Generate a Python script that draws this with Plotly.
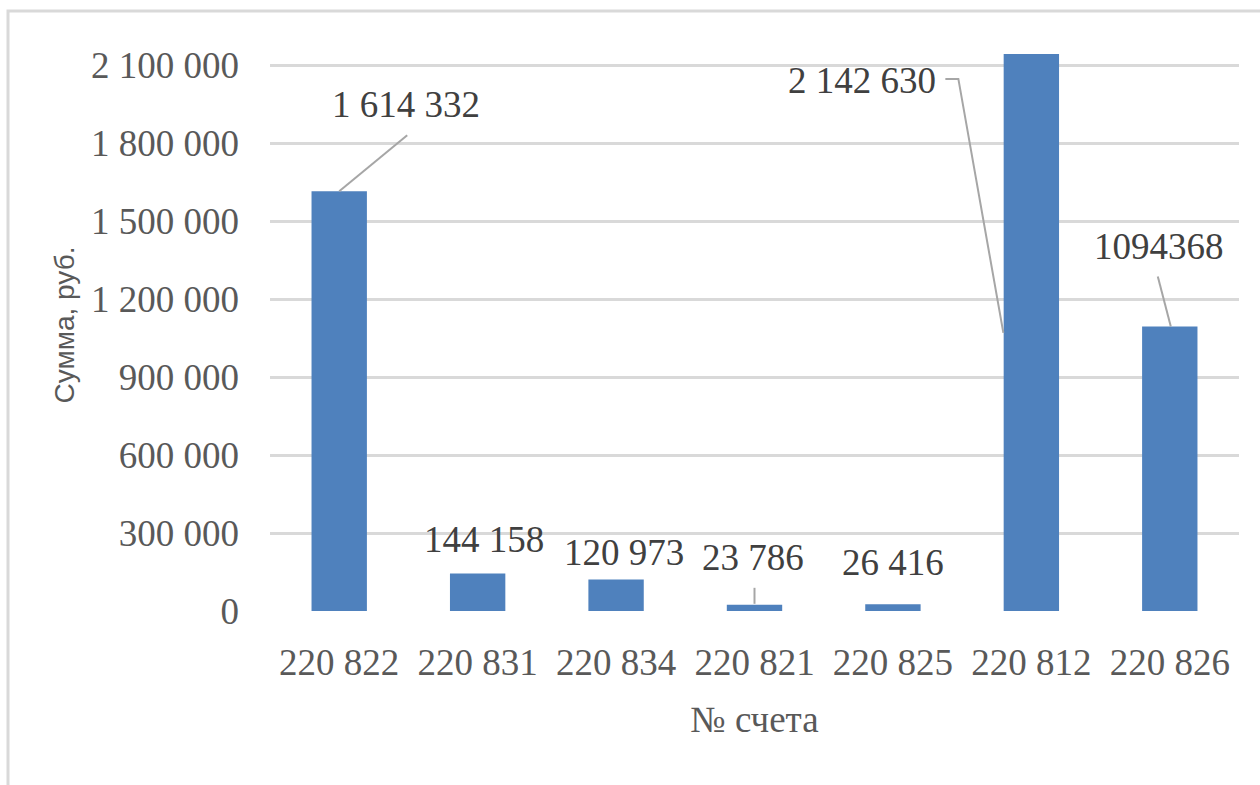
import plotly.graph_objects as go

# Account numbers and the amounts booked on each (roubles)
accounts = ["220 822", "220 831", "220 834", "220 821", "220 825", "220 812", "220 826"]
amounts = [1614332, 144158, 120973, 23786, 26416, 2142630, 1094368]
amount_labels = ["1 614 332", "144 158", "120 973", "23 786", "26 416", "2 142 630", "1094368"]

y_ticks = [0, 300000, 600000, 900000, 1200000, 1500000, 1800000, 2100000]
y_tick_text = ["0", "300 000", "600 000", "900 000", "1 200 000", "1 500 000", "1 800 000", "2 100 000"]

# Pixel offsets of each value label from the top centre of its bar
label_offsets = [(67, 87), (6, 34), (8, 27), (-2, 47), (0, 42), (-169, -27), (-11, 80)]
# Leader lines, pixel paths relative to the top centre of the bar (None = no leader)
leaders = [
    "M 0,0 L 68,56",
    None,
    None,
    "M 0,1 L 0,17",
    None,
    "M -28,-279 L -73,-25 L -86,-25",
    "M 1,0 L -12,50",
]

BAR = "#4F81BD"
GRID = "#D9D9D9"
TEXT = "#404040"
AXIS_TEXT = "#595959"
SERIF = "Liberation Serif, Times New Roman, serif"
SANS = "Liberation Sans, Arial, sans-serif"

fig = go.Figure(
    go.Bar(x=accounts, y=amounts, marker=dict(color=BAR, line=dict(width=0)), width=0.4)
)

annotations = []
shapes = []
for i, (acc, val, txt) in enumerate(zip(accounts, amounts, amount_labels)):
    dx, dy = label_offsets[i]
    annotations.append(dict(
        x=acc, y=val, xref="x", yref="y", text=txt, showarrow=False,
        xshift=dx, yshift=dy, xanchor="center", yanchor="middle",
        font=dict(family=SERIF, size=37, color=TEXT),
    ))
    if leaders[i]:
        shapes.append(dict(
            type="path", xref="x", yref="y", xsizemode="pixel", ysizemode="pixel",
            xanchor=acc, yanchor=val, path=leaders[i],
            line=dict(color="#A6A6A6", width=2), layer="above",
        ))

# Light frame around the chart area
shapes.append(dict(
    type="rect", xref="paper", yref="paper",
    x0=(8 - 270) / 969, x1=1.2, y0=-0.5, y1=(611 - 11) / 572,
    line=dict(color=GRID, width=3), fillcolor="rgba(0,0,0,0)", layer="below",
))

fig.update_layout(
    width=1260, height=785,
    margin=dict(l=270, r=21, t=39, b=174),
    paper_bgcolor="white", plot_bgcolor="white",
    showlegend=False,
    bargap=0.6,
    annotations=annotations,
    shapes=shapes,
    xaxis=dict(
        showgrid=False, showline=False, zeroline=False, ticks="",
        tickfont=dict(family=SERIF, size=37, color=AXIS_TEXT),
        ticklabelstandoff=26,
        title=dict(text="№ счета", font=dict(family=SERIF, size=37, color=AXIS_TEXT), standoff=24),
    ),
    yaxis=dict(
        range=[0, 2200000],
        tickvals=y_ticks, ticktext=y_tick_text,
        showgrid=True, gridcolor=GRID, gridwidth=3,
        zeroline=False, showline=False, ticks="",
        tickfont=dict(family=SERIF, size=37, color=AXIS_TEXT),
        ticklabelstandoff=30,
        title=dict(text="Сумма, руб.", font=dict(family=SANS, size=28, color=AXIS_TEXT), standoff=8),
    ),
)

fig.write_html("out.html")
